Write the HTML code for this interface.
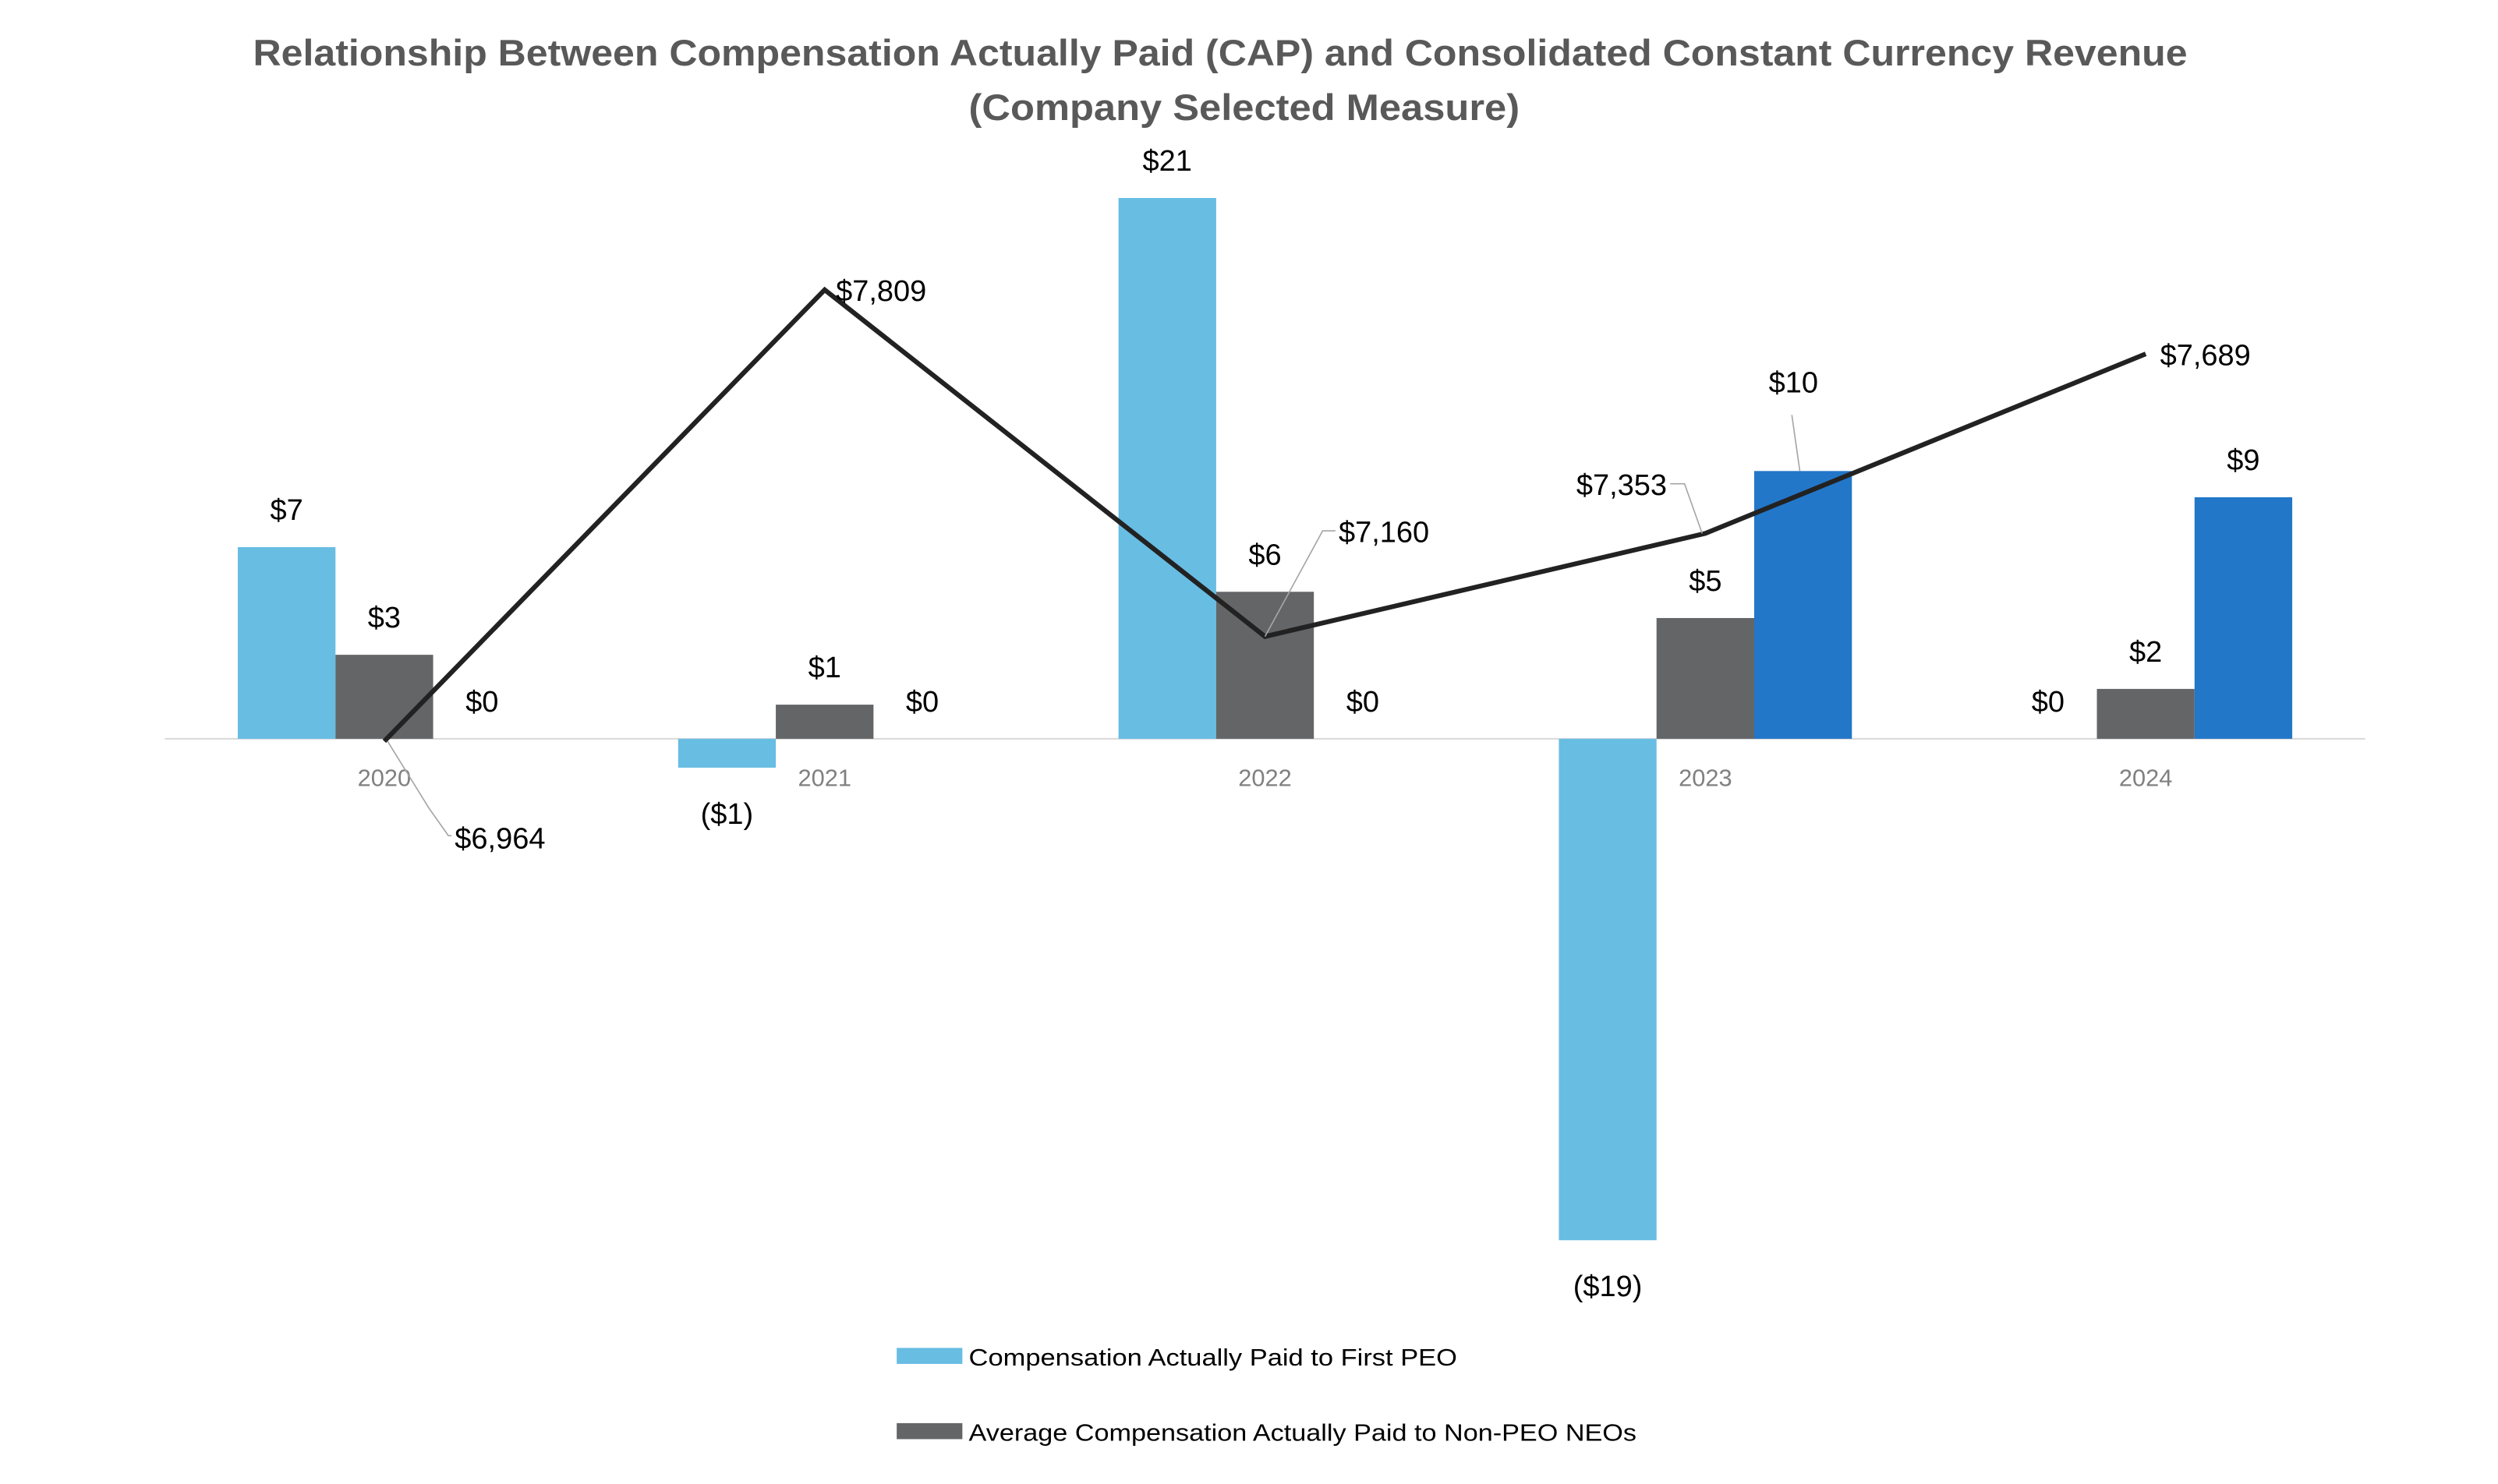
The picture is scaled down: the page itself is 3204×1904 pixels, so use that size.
<!DOCTYPE html>
<html><head><meta charset="utf-8">
<style>
html,body{margin:0;padding:0;background:#fff;}
svg{display:block;}
text{font-family:"Liberation Sans",sans-serif;}
</style></head>
<body>
<svg id="chart" width="3204" height="1904" viewBox="0 0 1560 927" xmlns="http://www.w3.org/2000/svg">
<rect width="1560" height="927" fill="#fff"/>
<text x="762" y="41" text-anchor="middle" font-size="23" font-weight="bold" fill="#595959" textLength="1208" lengthAdjust="spacingAndGlyphs">Relationship Between Compensation Actually Paid (CAP) and Consolidated Constant Currency Revenue</text>
<text x="777" y="75" text-anchor="middle" font-size="23" font-weight="bold" fill="#595959" textLength="344" lengthAdjust="spacingAndGlyphs">(Company Selected Measure)</text>
<g id="plot"></g>
<g>
  <rect x="560" y="842" width="41" height="10" fill="#68BDE3"/>
  <text x="605" y="853" font-size="15" fill="#000" textLength="305" lengthAdjust="spacingAndGlyphs">Compensation Actually Paid to First PEO</text>
  <rect x="560" y="889" width="41" height="10" fill="#646567"/>
  <text x="605" y="900" font-size="15" fill="#000" textLength="417" lengthAdjust="spacingAndGlyphs">Average Compensation Actually Paid to Non-PEO NEOs</text>
</g>
</svg>
<script>
const categories = ["2020","2021","2022","2023","2024"];
const firstPeo = [7.3, -1.1, 20.6, -19.1, 0];
const nonPeo = [3.2, 1.3, 5.6, 4.6, 1.9];
const secondPeo = [0, 0, 0, 10.2, 9.2];
const revenue = [6964, 7809, 7160, 7353, 7689];

const NS = "http://www.w3.org/2000/svg";
const plot = document.getElementById("plot");
const base = 461.5, perUnit = 16.4;
const x0 = 240, step = 275, bw = 61;
const xC = i => x0 + i * step;
const yBar = v => base - v * perUnit;
const yRev = v => 463 - (v - 6964) * 0.3337;
function mk(tag, attrs){const e=document.createElementNS(NS,tag);for(const k in attrs)e.setAttribute(k,attrs[k]);plot.appendChild(e);return e;}
function money(v){const r=Math.round(v);const s="$"+Math.abs(r).toLocaleString("en-US");return r<0?"("+s+")":s;}

const axis = mk("line",{x1:103,x2:1477,y1:base,y2:base,stroke:"#d9d9d9","stroke-width":1});



const series = [
  {vals:firstPeo, color:"#68BDE3", off:-bw, name:"first-peo"},
  {vals:nonPeo, color:"#646567", off:0, name:"non-peo"},
  {vals:secondPeo, color:"#2277C9", off:bw, name:"second-peo"}
];
series.forEach(s=>{
  s.vals.forEach((v,i)=>{
    const cx = xC(i)+s.off;
    const top = Math.min(yBar(v), base), h = Math.abs(yBar(v)-base);
    if(h>0.5){
      const r = mk("rect",{x:cx-bw/2,y:top,width:bw,height:h,fill:s.color});
      
      
    }
    let showLabel = !(s.name==="first-peo" && v===0 && i!==4);
    if(s.name==="second-peo" && v===0 && i>=3) showLabel=false;
    if(!showLabel) return;
    let ly = v>=0 ? yBar(v)-24 : yBar(v)+28;
    let lx = cx;
    if(s.name==="second-peo" && i===3){ ly = yBar(v)-56; lx = cx-6;
      const ld = mk("polyline",{points:(cx-7)+","+(yBar(v)-35)+" "+(cx-2)+","+yBar(v),fill:"none",stroke:"#a6a6a6","stroke-width":0.8});
      
      
    }
    const t = mk("text",{x:lx,y:ly+7,"text-anchor":"middle","font-size":18.5,fill:"#000"});
    t.textContent = money(v);
    
    
  });
});

categories.forEach((c,i)=>{
  const t = mk("text",{x:xC(i),y:491,"text-anchor":"middle","font-size":15,fill:"#808080"});
  t.textContent = c;
  
  
});

const pts = revenue.map((v,i)=>xC(i)+","+yRev(v)).join(" ");
const line = mk("polyline",{points:pts,fill:"none",stroke:"#222","stroke-width":3,"stroke-linejoin":"miter"});



revenue.forEach((v,i)=>{
  const px = xC(i), py = yRev(v);
  let lx = px+8, ly = py, anchor="start", leader=null;
  if(i===0){ lx=284; ly=py+60; leader=[[px+2,py],[px+28,py+42],[px+40,py+59],[lx-2,py+59]]; }
  if(i===1){ lx=px+7; ly=py; }
  if(i===2){ lx=px+46; ly=py-66; leader=[[px,py],[px+36,py-66],[lx-2,py-66]]; }
  if(i===3){ lx=px-24; ly=py-31; anchor="end"; leader=[[px-2,py],[px-13,py-31],[px-22,py-31]]; }
  if(i===4){ lx=px+9; ly=py; }
  if(leader){
    const l = mk("polyline",{points:leader.map(p=>p.join(",")).join(" "),fill:"none",stroke:"#a6a6a6","stroke-width":0.8});
    
    
  }
  const t = mk("text",{x:lx,y:ly+7,"text-anchor":anchor,"font-size":18.5,fill:"#000"});
  t.textContent = money(v);
  
  
});
</script>
</body></html>
